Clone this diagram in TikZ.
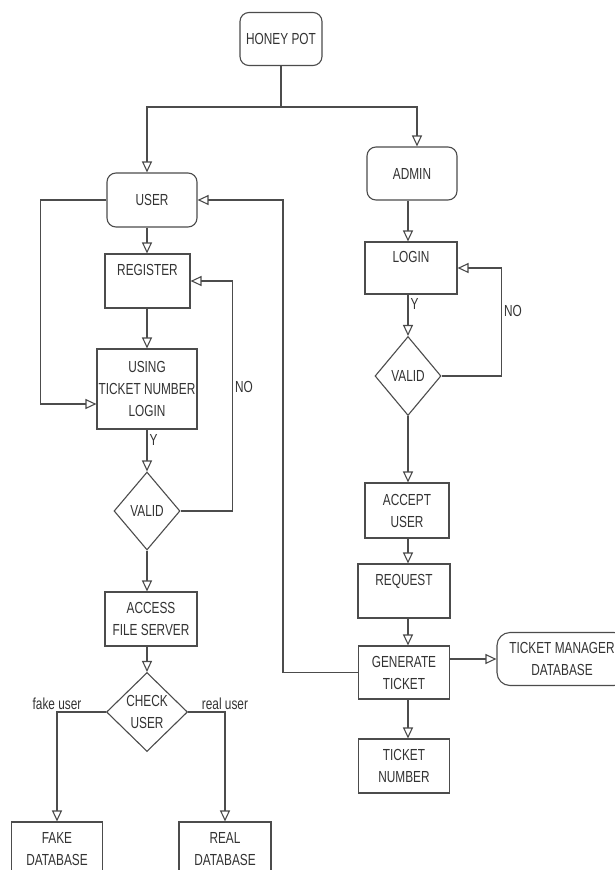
\documentclass[tikz,border=0pt]{standalone}
\usepackage{fontspec}
\newfontfamily\flowfont{Liberation Sans}[FakeStretch=0.74]
\usepackage{tikz}
\usetikzlibrary{arrows.meta,shapes,positioning,calc}

\tikzset{
  flowline/.style={draw=black!70, line width=1.1pt},
  flowarrow/.style={flowline, -{Triangle[open, length=11pt, width=10pt]}},
  procbox/.style={flowline, rectangle, inner sep=0pt, align=center,
    font=\flowfont\fontsize{16}{22}\selectfont, text=black!80},
  termbox/.style={procbox, rounded corners=9pt},
  decision/.style={procbox, diamond},
  edgetext/.style={font=\flowfont\fontsize{16}{19}\selectfont, text=black!80, inner sep=2pt}
}

\begin{document}
\begin{tikzpicture}[x=1pt, y=-1pt]
    % page
    \path[use as bounding box, fill=white] (0,0) rectangle (615,870);

    % start
    \node[termbox, minimum width=82pt, minimum height=53pt] (honey) at (281,39) {HONEY POT};
    \coordinate (split) at (281,107);

    % user side
    \node[termbox, minimum width=90pt, minimum height=54pt] (user) at (152,200) {USER};
    \node[procbox, minimum width=85pt, minimum height=54pt] (register) at (147.5,281) {REGISTER\\ \mbox{}};
    \node[procbox, minimum width=100pt, minimum height=80pt] (login1) at (147,389) {USING\\TICKET NUMBER\\LOGIN};
    \node[decision, minimum width=66pt, minimum height=78pt] (valid1) at (147,511) {VALID};
    \node[procbox, minimum width=92pt, minimum height=54pt] (access) at (151,619) {ACCESS\\FILE SERVER};
    \node[decision, minimum width=81pt, minimum height=79pt] (check) at (147,712) {CHECK\\USER};
    \node[procbox, minimum width=91pt, minimum height=54pt] (fake) at (57,849) {FAKE\\DATABASE};
    \node[procbox, minimum width=92pt, minimum height=54pt] (real) at (225,849) {REAL\\DATABASE};

    % admin side
    \node[termbox, minimum width=90pt, minimum height=53pt] (admin) at (412,173.5) {ADMIN};
    \node[procbox, minimum width=92pt, minimum height=52pt] (login2) at (411,268) {LOGIN\\ \mbox{}};
    \node[decision, minimum width=66pt, minimum height=79pt] (valid2) at (408,376) {VALID};
    \node[procbox, minimum width=84pt, minimum height=55pt] (accept) at (407,510.5) {ACCEPT\\USER};
    \node[procbox, minimum width=92pt, minimum height=54pt] (request) at (404,591) {REQUEST\\ \mbox{}};
    \node[procbox, minimum width=91pt, minimum height=53pt] (generate) at (404,672.5) {GENERATE\\TICKET};
    \node[procbox, minimum width=91pt, minimum height=54pt] (ticketnum) at (404,766) {TICKET\\NUMBER};
    \node[termbox, minimum width=130pt, minimum height=53pt, rounded corners=13pt] (tmdb) at (562,659) {TICKET MANAGER\\DATABASE};

    % branches from the start
    \draw[flowline] (honey) -- (split);
    \draw[flowarrow] (split) -| (user.north -| valid1);
    \draw[flowarrow] (split) -| ([xshift=5pt]admin.north);

    % user flow
    \draw[flowarrow] (user.south -| valid1) -- (register.north -| valid1);
    \draw[flowarrow] (register.south -| valid1) -- (login1.north -| valid1);
    \draw[flowarrow] (user.west) -- ++(-66,0) |- ([yshift=-15pt]login1.west);
    \draw[flowarrow] (login1.south -| valid1) -- node[edgetext, right, pos=0.25] {Y} (valid1.north);
    \draw[flowarrow] (valid1.east) -- ++(52,0) |- node[edgetext, right, pos=0.27] {NO} (register.east);
    \draw[flowarrow] (valid1.south) -- (access.north -| valid1);
    \draw[flowarrow] (access.south -| check) -- (check.north);
    \draw[flowarrow] (check.west) -| node[edgetext, above, pos=0.5] {fake user} (fake.north);
    \draw[flowarrow] (check.east) -| node[edgetext, above, pos=0.5] {real user} (real.north);

    % admin flow
    \draw[flowarrow] (admin.south -| valid2) -- (login2.north -| valid2);
    \draw[flowarrow] (login2.south -| valid2) -- node[edgetext, right, pos=0.23] {Y} (valid2.north);
    \draw[flowarrow] (valid2.east) -- ++(60,0) |- node[edgetext, right, pos=0.3] {NO} (login2.east);
    \draw[flowarrow] (valid2.south) -- (accept.north -| valid2);
    \draw[flowarrow] (accept.south -| valid2) -- (request.north -| valid2);
    \draw[flowarrow] (request.south -| valid2) -- (generate.north -| valid2);
    \draw[flowarrow] (generate.south -| valid2) -- (ticketnum.north -| valid2);
    \draw[flowarrow] (generate.east |- tmdb.west) -- (tmdb.west);

    % ticket back to user
    \draw[flowarrow] (generate.west) -- ++(-75,0) |- (user.east);
\end{tikzpicture}
\end{document}
